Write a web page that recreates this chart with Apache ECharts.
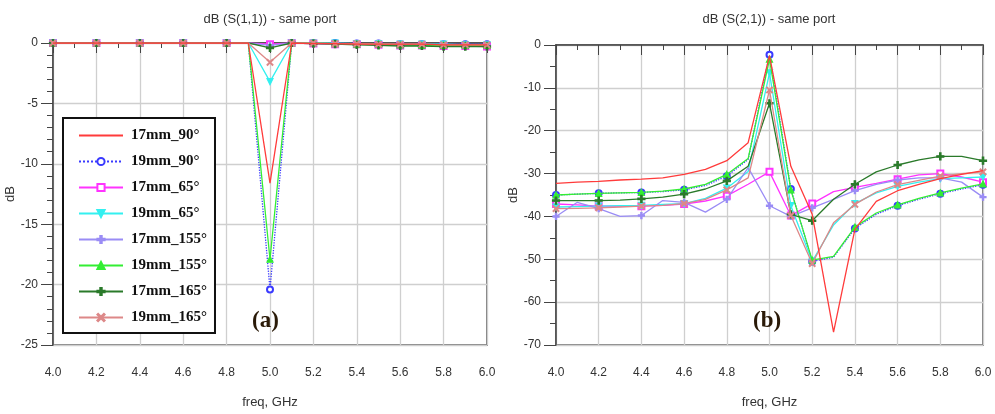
<!DOCTYPE html>
<html>
<head>
<meta charset="utf-8">
<script src="https://cdn.jsdelivr.net/npm/echarts@6/dist/echarts.min.js"></script>
<style>
  html, body { margin: 0; padding: 0; background: #fff; }
  #chart { width: 995px; height: 414px; }
</style>
</head>
<body>
<div id="chart"></div>
<script>
// frequency points, GHz
var freq = [4.0, 4.1, 4.2, 4.3, 4.4, 4.5, 4.6, 4.7, 4.8, 4.9, 5.0, 5.1, 5.2, 5.3, 5.4, 5.5, 5.6, 5.7, 5.8, 5.9, 6.0];

var names = ['17mm_90°', '19mm_90°', '17mm_65°', '19mm_65°', '17mm_155°', '19mm_155°', '17mm_165°', '19mm_165°'];

// dB(S(1,1))
var s11_17_90  = [0, 0, 0, 0, 0, 0, 0, 0, 0, 0, -11.6, 0, -0.05, -0.05, -0.1, -0.1, -0.1, -0.1, -0.15, -0.15, -0.15];
var s11_19_90  = [0, 0, 0, 0, 0, 0, 0, 0, 0, 0, -20.4, 0, 0, 0, -0.05, -0.05, -0.1, -0.1, -0.1, -0.1, -0.1];
var s11_17_65  = [0, 0, 0, 0, 0, 0, 0, 0, 0, 0, -0.1, 0, -0.05, -0.1, -0.1, -0.15, -0.2, -0.2, -0.25, -0.25, -0.3];
var s11_19_65  = [0, 0, 0, 0, 0, 0, 0, 0, 0, 0, -3.2, 0, 0, 0, -0.05, -0.05, -0.1, -0.1, -0.1, -0.15, -0.15];
var s11_17_155 = [0, 0, 0, 0, 0, 0, 0, 0, 0, 0, -0.2, 0, -0.05, -0.1, -0.1, -0.1, -0.15, -0.2, -0.2, -0.2, -0.2];
var s11_19_155 = [0, 0, 0, 0, 0, 0, 0, 0, 0, 0, -17.9, 0, 0, -0.05, -0.1, -0.1, -0.15, -0.2, -0.2, -0.2, -0.2];
var s11_17_165 = [0, 0, 0, 0, 0, 0, 0, 0, 0, 0, -0.4, 0, -0.05, -0.1, -0.15, -0.2, -0.25, -0.25, -0.3, -0.3, -0.3];
var s11_19_165 = [0, 0, 0, 0, 0, 0, 0, 0, 0, 0, -1.6, 0, 0, -0.05, -0.05, -0.1, -0.1, -0.1, -0.15, -0.15, -0.15];

// dB(S(2,1))
var s21_17_90  = [-32.3, -32, -31.8, -31.5, -31.3, -31, -30.2, -29, -27, -22.8, -2.5, -28.3, -39.5, -67, -43, -36.5, -34, -32.5, -31.2, -30.2, -29.3];
var s21_19_90  = [-35, -34.8, -34.6, -34.5, -34.4, -34.2, -33.8, -32.8, -30.6, -26.7, -2.3, -33.6, -50.5, -49.5, -42.8, -39.5, -37.5, -36, -34.7, -33.6, -32.6];
var s21_17_65  = [-37.1, -37.3, -37.6, -37.6, -37.6, -37.4, -37.1, -36.4, -35.2, -32.5, -29.6, -39.8, -37, -34.2, -33.2, -32.3, -31.3, -30.3, -30, -30.8, -32];
var s21_19_65  = [-37.8, -37.7, -37.6, -37.5, -37.4, -37.2, -37, -35.8, -33.4, -29.5, -6.5, -37.5, -50.5, -42, -37, -34.5, -33, -32, -31.2, -31, -30.8];
var s21_17_155 = [-40, -36.7, -38.2, -40, -39.8, -36.3, -36.7, -39, -36, -28.6, -37.5, -40, -38, -36, -34, -32.5, -31.5, -31, -31, -32, -35.5];
var s21_19_155 = [-35, -34.8, -34.6, -34.5, -34.4, -34.1, -33.6, -32.5, -30.2, -26.5, -3.3, -33.8, -50.2, -49.3, -42.5, -39.2, -37.3, -35.8, -34.5, -33.4, -32.4];
var s21_17_165 = [-36.3, -36.3, -36.3, -36.2, -35.9, -35.5, -34.8, -33.6, -31.7, -28.3, -13.6, -39.5, -41, -36, -32.5, -29.6, -28, -26.8, -26, -26, -27];
var s21_19_165 = [-38.2, -38.1, -38, -37.8, -37.6, -37.4, -37, -36, -33.8, -31, -10.5, -39.8, -51, -41.5, -37.2, -34.3, -32.6, -31.6, -30.6, -30, -29.6];

var s11 = [s11_17_90, s11_19_90, s11_17_65, s11_19_65, s11_17_155, s11_19_155, s11_17_165, s11_19_165];
var s21 = [s21_17_90, s21_19_90, s21_17_65, s21_19_65, s21_17_155, s21_19_155, s21_17_165, s21_19_165];

var colors = ['#ff3b3b', '#3a3aff', '#ff33ff', '#33f0f0', '#9a8cf5', '#33ee33', '#2a7a2a', '#dd8888'];
var plusPath = 'path://M4,0h2v10h-2zM0,4h10v2h-10z';
var crossPath = 'path://M0,1L1,0L5,4L9,0L10,1L6,5L10,9L9,10L5,6L1,10L0,9L4,5Z';
var symbols = ['none', 'emptyCircle', 'emptyRect', 'triangle', plusPath, 'triangle', plusPath, crossPath];
var symbolRot = [0, 0, 0, 180, 0, 0, 0, 0];
var symbolSizes = [0, 6, 6, 6, 6, 6, 7, 6];

function build(vals, gridIdx, showMark) {
  return vals.map(function (arr, k) {
    return {
      name: names[k],
      type: 'line',
      xAxisIndex: gridIdx,
      yAxisIndex: gridIdx,
      showAllSymbol: true,
      symbol: symbols[k],
      symbolSize: symbolSizes[k],
      symbolRotate: symbolRot[k],
      color: colors[k],
      lineStyle: { width: 1.3, type: k === 1 ? 'dotted' : 'solid', color: colors[k] },
      itemStyle: { color: colors[k], borderColor: colors[k], borderWidth: 1.2 },
      emphasis: { disabled: true },
      animation: false,
      z: k === 0 ? 20 : 3 + k,
      data: arr.map(function (v, i) {
        var d = { value: [freq[i], v] };
        if (!showMark(i)) d.symbol = 'none';
        return d;
      })
    };
  });
}

function xAxisFor(gridIdx) {
  return {
    type: 'value', gridIndex: gridIdx, min: 4, max: 6, interval: 0.2,
    name: 'freq, GHz', nameLocation: 'middle', nameGap: 51,
    nameTextStyle: { fontFamily: 'Liberation Sans', fontSize: 13, color: '#333' },
    axisLine: { lineStyle: { color: '#444', width: 1.5 } },
    axisTick: { length: 10, lineStyle: { color: '#444' } },
    minorTick: { show: true, splitNumber: 2, length: 5, lineStyle: { color: '#444' } },
    axisLabel: { margin: 22, fontFamily: 'Liberation Sans Narrow, Liberation Sans', fontSize: 12, color: '#333',
      formatter: function (v) { return v.toFixed(1); } },
    splitLine: { show: true, lineStyle: { color: '#cfcfcf', width: 1.3 } }
  };
}

function yAxisFor(gridIdx, min, interval, minorSplit, gap) {
  return {
    type: 'value', gridIndex: gridIdx, min: min, max: 0, interval: interval,
    name: 'dB', nameLocation: 'middle', nameGap: gap,
    nameTextStyle: { fontFamily: 'Liberation Sans', fontSize: 13, color: '#333' },
    axisLine: { show: true, lineStyle: { color: '#444', width: 1.5 } },
    axisTick: { show: true, length: 12, lineStyle: { color: '#444' } },
    minorTick: { show: true, splitNumber: minorSplit, length: 6, lineStyle: { color: '#444' } },
    axisLabel: { margin: 15, fontFamily: 'Liberation Sans Narrow, Liberation Sans', fontSize: 12, color: '#333' },
    splitLine: { show: true, lineStyle: { color: '#cfcfcf', width: 1.3 } }
  };
}

// red trace has no markers: hide the legend symbol, keep the line
var legendData = names.map(function (n, k) {
  return k === 0 ? { name: n, itemStyle: { opacity: 0 } } : { name: n };
});

var chart = echarts.init(document.getElementById('chart'));
var option = {
  backgroundColor: '#fff',
  animation: false,
  title: [
    { text: 'dB (S(1,1)) - same port', left: 265, top: 8, textAlign: 'center',
      textStyle: { fontFamily: 'Liberation Sans', fontSize: 13, fontWeight: 'normal', color: '#333' } },
    { text: 'dB (S(2,1)) - same port', left: 764, top: 8, textAlign: 'center',
      textStyle: { fontFamily: 'Liberation Sans', fontSize: 13, fontWeight: 'normal', color: '#333' } }
  ],
  grid: [
    { left: 53, right: 508, top: 43, bottom: 69, show: true, borderColor: '#555', borderWidth: 1.5 },
    { left: 556, right: 12, top: 45, bottom: 69, show: true, borderColor: '#555', borderWidth: 1.5 }
  ],
  legend: {
    data: legendData,
    orient: 'vertical',
    left: 63, top: 118,
    padding: [10, 8, 8, 15],
    itemWidth: 44, itemHeight: 9, itemGap: 11,
    backgroundColor: '#fff',
    borderColor: '#111', borderWidth: 2,
    textStyle: { fontFamily: 'Liberation Serif', fontWeight: 'bold', fontSize: 15, color: '#111', padding: [0, 0, 0, 3] },
    selectedMode: false
  },
  xAxis: [xAxisFor(0), xAxisFor(1)],
  yAxis: [yAxisFor(0, -25, 5, 5, 30), yAxisFor(1, -70, 10, 2, 36)],
  graphic: [
    { type: 'text', left: 252, top: 310, z: 100,
      style: { text: '(a)', font: 'bold 23px "Liberation Serif"', fill: '#2a1a08' } },
    { type: 'text', left: 753, top: 310, z: 100,
      style: { text: '(b)', font: 'bold 23px "Liberation Serif"', fill: '#2a1a08' } }
  ],
  series: build(s11, 0, function (i) { return i % 2 === 0 || i >= 10; })
    .concat(build(s21, 1, function (i) { return i % 2 === 0 || i === 11; }))
};
chart.setOption(option);
</script>
</body>
</html>
